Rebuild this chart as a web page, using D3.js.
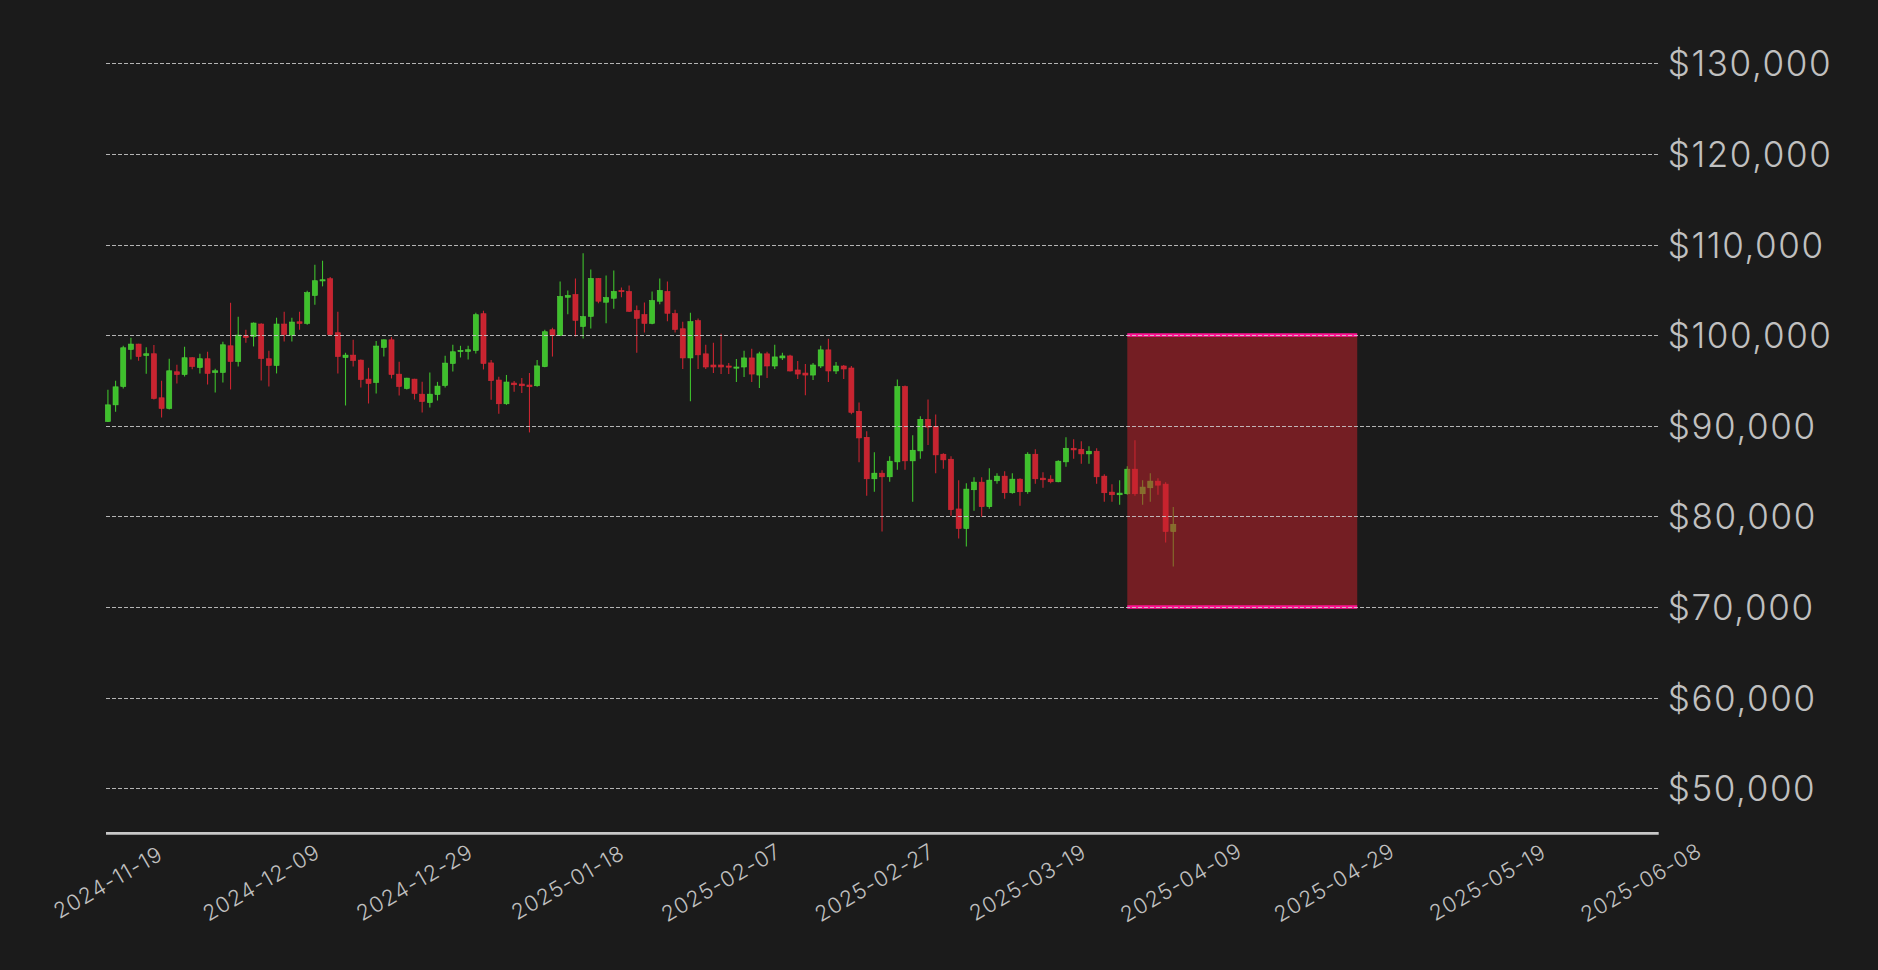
<!DOCTYPE html>
<html>
<head>
<meta charset="utf-8">
<script src="https://cdn.jsdelivr.net/npm/d3@7"></script>
<style>
  html, body { margin: 0; padding: 0; background: #1b1b1b; }
  svg { display: block; }
</style>
</head>
<body>
<script>
// ---------------- data ----------------
const firstDay = "2024-11-19";   // first candle, daily candles follow
const openVals = [
  90460,92300,94330,98420,99010,97750,97940,93080,91900,95950,95650,97500,96430,97390,95880,95880,98820,97090,99930,99850,
  101220,97390,96650,101220,100000,101470,101290,104380,106040,106220,100260,97530,97790,97240,95140,94770,98640,99480,95690,94110,
  95140,93480,92560,93440,94440,96870,98200,98200,98310,102360,96930,95040,92420,94710,94600,94490,94410,96520,100590,99960,
  104180,104480,100960,102070,106250,103630,104070,104920,104810,102700,102260,101300,103740,104810,102370,100700,97480,101590,97930,96700,
  96700,96590,96410,96480,97480,95590,97930,96590,97480,97700,96150,95810,95590,96590,98370,96040,96590,96370,91590,88720,
  84140,84760,84360,86010,94320,86120,87220,90700,89930,86850,86300,80810,78650,82930,83770,81060,83920,84430,82600,84100,
  82710,86850,84210,84100,83810,86010,87510,87400,86890,87180,84430,82670,82380,82490,85200,82490,83150,83880,83550,78320
];
const highVals = [
  93960,94950,98820,99700,99050,98670,98900,94950,97380,96720,98710,97550,97940,98160,96280,99260,103570,102030,100590,101400,
  101300,98270,101920,102580,101920,102580,104900,107770,108210,106410,102580,98050,99480,97300,96390,99340,99520,99780,97050,95300,
  95180,94840,95880,94840,97720,98930,98820,98820,102470,102690,97260,95410,95600,94930,95260,95820,97260,100590,100810,105920,
  104920,106250,109030,107250,106300,106590,107140,105250,105480,103260,103590,104810,106250,105920,102810,101480,102480,101820,98930,99150,
  100150,96930,97370,98260,98480,98150,98150,98930,98040,97820,97150,96810,96930,98820,99590,97040,96700,96590,92570,89380,
  87070,85090,86630,95090,94430,88940,91030,92890,91250,86960,86630,83990,83660,84320,84320,85310,84760,84980,84760,84200,
  87070,87400,84870,84540,86190,88720,88500,88280,87730,87510,84650,83550,83990,85530,88390,83990,84760,84210,83770,81030
];
const lowVals = [
  90400,91530,94110,97310,97160,95730,92890,90900,91790,94660,95430,96240,95770,94550,93670,94770,94000,96540,99150,98750,
  94990,94330,95770,99300,99300,100590,101140,103350,105380,100000,95770,92230,96540,94220,92450,93560,97640,95210,93330,94000,
  92890,91460,92010,92780,94220,95990,97530,97310,97970,96210,92860,91310,92300,93750,93600,89260,94300,96450,97630,99900,
  102290,99850,99630,100740,103520,101300,102920,104180,102550,98040,100300,101200,103400,101520,100300,96260,92700,96260,96260,95810,
  95700,95700,94810,95370,94810,94150,95260,96260,97260,95990,95150,93370,95040,96370,94810,95700,95150,91260,85970,82270,
  82710,78320,83810,85130,85130,81610,86340,87880,84760,85240,80070,77550,76670,80620,79960,80840,83590,81940,82490,81170,
  82490,83590,83150,83660,83750,85460,86340,85790,85790,83590,81610,81610,81280,82380,82270,81280,81610,82380,77110,74470
];
const closeVals = [
  92300,94290,98600,99010,97640,97940,93000,91900,96060,95650,97500,96540,97390,95770,96060,98930,97090,100000,99740,101330,
  97420,96650,101220,100070,101440,101290,104680,106000,106110,100070,97640,97790,97200,95100,94660,98790,99480,95650,94330,95250,
  93560,92670,93480,94370,96910,98160,98310,98380,102250,96870,94970,92420,94820,94520,94410,94300,96600,100370,99960,104260,
  104370,101630,102040,106250,103740,104140,104810,104810,102630,101850,101300,103810,104920,102410,100630,97480,101480,97820,96480,96480,
  96480,96480,96480,97480,95700,97930,96590,97590,97700,96040,95700,95590,96700,98370,96040,96590,96260,91480,88650,84140,
  84760,84360,86080,94320,86120,87290,90700,89850,86780,86230,80730,78650,83000,83770,81060,83990,84430,82600,84100,82710,
  86850,84140,84030,83810,86080,87510,87330,86890,87180,84360,82600,82380,82560,85200,82490,83220,83880,83440,78320,79120
];
// y ticks
const yTicks = [50000, 60000, 70000, 80000, 90000, 100000, 110000, 120000, 130000];
// x ticks (every 20 days from the first candle) and their labels as printed
const xTickStepDays = 20;
const xTickLabels = ["2024-11-19","2024-12-09","2024-12-29","2025-01-18","2025-02-07","2025-02-27",
                     "2025-03-19","2025-04-09","2025-04-29","2025-05-19","2025-06-08"];
// highlighted zone
const zoneDates = ["2025-04-01", "2025-05-01"];
const zoneRange = [70000, 100000];

// ---------------- layout ----------------
const W = 1878, H = 970;
const plotLeft = 106, plotRight = 1658.7, plotBottom = 833.4;
const BG = "#1b1b1b";
const UP = "#3ec02c", DOWN = "#c82430";
const TEXT = "#c0c0c0";
const FONT = "Inter, 'Open Sans', sans-serif";

const parse = d3.utcParse("%Y-%m-%d");
const start = parse(firstDay);
const dates = d3.utcDay.range(start, d3.utcDay.offset(start, openVals.length));
const data = dates.map((d, i) => ({date: d, o: openVals[i], h: highVals[i], l: lowVals[i], c: closeVals[i]}));

const x = d3.scaleUtc()
  .domain([d3.utcHour.offset(start, -6), d3.utcHour.offset(start, 202 * 24 + 8)])
  .range([plotLeft, plotRight]);
const y = d3.scaleLinear().domain([45000, 135000]).range([plotBottom, 18]);

const svg = d3.select("body").append("svg").attr("width", W).attr("height", H);
svg.append("rect").attr("width", W).attr("height", H).attr("fill", BG);

const dayPx = x(d3.utcDay.offset(start, 1)) - x(start);
const bodyW = dayPx * 0.66;

// candles
const cg = svg.append("g");
cg.selectAll("line.wick").data(data).join("line")
  .attr("class", "wick")
  .attr("x1", d => x(d.date)).attr("x2", d => x(d.date))
  .attr("y1", d => y(d.h)).attr("y2", d => y(d.l))
  .attr("stroke", d => d.c >= d.o ? UP : DOWN)
  .attr("stroke-width", 1.1);
cg.selectAll("rect.body").data(data).join("rect")
  .attr("class", "body")
  .attr("x", d => x(d.date) - bodyW / 2)
  .attr("width", bodyW)
  .attr("y", d => y(Math.max(d.o, d.c)))
  .attr("height", d => Math.max(1.2, Math.abs(y(d.o) - y(d.c))))
  .attr("fill", d => d.c >= d.o ? UP : DOWN)
  .attr("stroke", d => d.c >= d.o ? "#52d13e" : "#d42c38")
  .attr("stroke-width", 0.6);

// zone
const zx0 = x(parse(zoneDates[0])), zx1 = x(parse(zoneDates[1]));
svg.append("rect")
  .attr("x", zx0).attr("width", zx1 - zx0)
  .attr("y", y(zoneRange[1])).attr("height", y(zoneRange[0]) - y(zoneRange[1]))
  .attr("fill", "rgb(200,35,45)").attr("fill-opacity", 0.52);
svg.selectAll("line.zoneEdge").data(zoneRange).join("line")
  .attr("class", "zoneEdge")
  .attr("x1", zx0).attr("x2", zx1)
  .attr("y1", d => y(d)).attr("y2", d => y(d))
  .attr("stroke", "#ff1493").attr("stroke-width", 3.5);

// grid
svg.append("g").selectAll("line").data(yTicks).join("line")
  .attr("x1", plotLeft).attr("x2", plotRight)
  .attr("y1", d => Math.round(y(d)) + 0.5).attr("y2", d => Math.round(y(d)) + 0.5)
  .attr("stroke", "#cfcfcf").attr("stroke-width", 1)
  .attr("stroke-dasharray", "4,2").attr("stroke-opacity", 0.85);

// y labels (right)
svg.append("g").selectAll("text").data(yTicks).join("text")
  .attr("x", plotRight + 9)
  .attr("y", d => y(d))
  .attr("dominant-baseline", "central")
  .attr("fill", TEXT)
  .attr("font-family", FONT)
  .attr("font-weight", 300)
  .attr("font-size", 35)
  .attr("letter-spacing", 1.6)
  .text(d3.format("$,"));

// x axis line
svg.append("line")
  .attr("x1", plotLeft).attr("x2", plotRight)
  .attr("y1", plotBottom).attr("y2", plotBottom)
  .attr("stroke", "#c8c8c8").attr("stroke-width", 2.6);

// x tick labels
const xTickDates = xTickLabels.map((_, i) => d3.utcDay.offset(start, i * xTickStepDays));
svg.append("g").selectAll("text").data(xTickDates).join("text")
  .attr("transform", d => `translate(${x(d)},882) rotate(-30)`)
  .attr("text-anchor", "middle")
  .attr("dominant-baseline", "central")
  .attr("fill", TEXT)
  .attr("font-family", FONT)
  .attr("font-weight", 300)
  .attr("font-size", 21.5)
  .attr("letter-spacing", 1.1)
  .text((d, i) => xTickLabels[i]);
</script>
</body>
</html>
